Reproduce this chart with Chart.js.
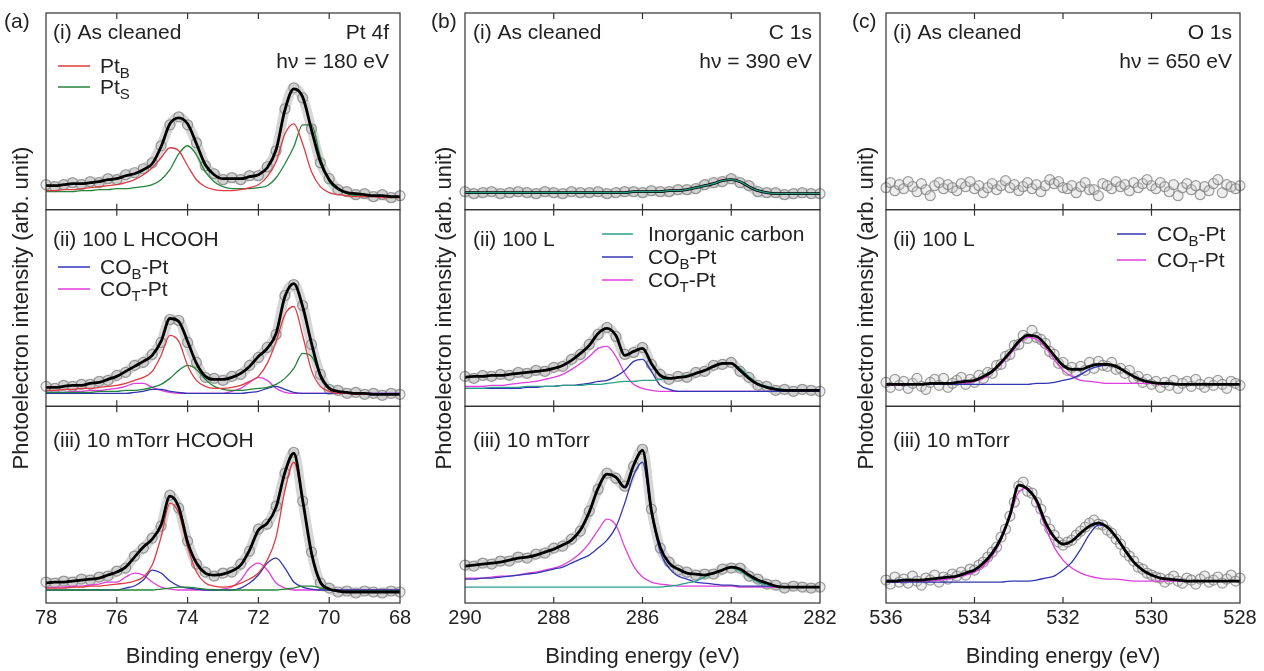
<!DOCTYPE html>
<html lang="en">
<head>
<meta charset="UTF-8">
<title>Pt 4f, C 1s and O 1s spectra</title>
<script src="https://cdn.jsdelivr.net/npm/chart.js"></script>
<style>
  body { margin: 0; background: #fff; }
  canvas { position: absolute; top: 0; }
</style>
</head>
<body>
<canvas id="panelA" width="421" height="671" style="left:0px"></canvas>
<canvas id="panelB" width="421" height="671" style="left:421px"></canvas>
<canvas id="panelC" width="422" height="671" style="left:842px"></canvas>
<script>
// binding energy grids (eV)
const energyPt = [78,77.75,77.5,77.25,77,76.75,76.5,76.25,76,75.75,75.5,75.25,75,74.75,74.5,74.25,74,73.75,73.5,73.25,73,72.75,72.5,72.25,72,71.75,71.5,71.25,71,70.75,70.5,70.25,70,69.75,69.5,69.25,69,68.75,68.5,68.25,68];
const energyC = [290,289.8,289.6,289.4,289.2,289,288.8,288.6,288.4,288.2,288,287.8,287.6,287.4,287.2,287,286.8,286.6,286.4,286.2,286,285.8,285.6,285.4,285.2,285,284.8,284.6,284.4,284.2,284,283.8,283.6,283.4,283.2,283,282.8,282.6,282.4,282.2,282];
const energyO = [536,535.8,535.6,535.4,535.2,535,534.8,534.6,534.4,534.2,534,533.8,533.6,533.4,533.2,533,532.8,532.6,532.4,532.2,532,531.8,531.6,531.4,531.2,531,530.8,530.6,530.4,530.2,530,529.8,529.6,529.4,529.2,529,528.8,528.6,528.4,528.2,528];
const energyOScan = [536,535.9,535.8,535.7,535.6,535.5,535.4,535.3,535.2,535.1,535,534.9,534.8,534.7,534.6,534.5,534.4,534.3,534.2,534.1,534,533.9,533.8,533.7,533.6,533.5,533.4,533.3,533.2,533.1,533,532.9,532.8,532.7,532.6,532.5,532.4,532.3,532.2,532.1,532,531.9,531.8,531.7,531.6,531.5,531.4,531.3,531.2,531.1,531,530.9,530.8,530.7,530.6,530.5,530.4,530.3,530.2,530.1,530,529.9,529.8,529.7,529.6,529.5,529.4,529.3,529.2,529.1,529,528.9,528.8,528.7,528.6,528.5,528.4,528.3,528.2,528.1,528];

// Pt 4f (a)
const dataPtI = [25,23,25,27,25,28,27,31,30,35,37,41,47,64,85,93,85,67,44,36,30,32,30,34,34,43,59,101,122,112,81,47,31,20,18,15,16,13,15,12,14];
const fitPtI = [24,24,25,26,26,27,28,30,31,34,36,40,46,63,86,92,86,66,45,35,31,31,31,33,35,42,60,100,121,113,80,48,30,21,17,16,15,14,14,13,13];
const ptBulkI = [19,19,20,20,21,22,23,24,25,27,30,35,42,52,62,59,44,30,23,20,19,19,20,22,25,33,48,76,86,66,38,23,17,15,14,13,13,13,12,12,12];
const ptSurfI = [18,18,18,18,19,19,20,20,21,21,22,23,25,30,40,56,64,55,38,28,23,21,21,21,22,24,32,46,63,85,85,53,28,20,16,14,13,13,13,12,12];

const dataPtII = [20,18,21,20,22,22,25,26,31,34,41,44,52,64,87,86,64,44,29,28,26,30,32,41,49,59,72,111,122,101,62,32,17,16,13,14,12,13,11,13,12];
const fitPtII = [19,19,20,21,21,23,24,27,30,35,40,45,51,65,88,85,65,43,30,27,27,29,33,40,50,58,73,110,123,100,63,31,18,15,14,13,13,12,12,12,12];
const ptBulkII = [16,16,17,17,18,18,19,20,21,23,26,29,35,51,71,65,41,26,20,18,18,19,21,25,30,43,65,92,100,71,36,20,15,13,13,12,12,12,12,12,12];
const ptSurfII = [14,14,14,14,14,14,15,15,15,16,16,17,19,22,28,36,41,37,27,20,17,16,16,17,18,19,22,28,38,53,50,32,19,15,13,13,12,12,12,12,12];
const ptCoBridgeII = [13,13,13,13,13,13,13,13,13,13,14,15,17,17,15,14,13,13,13,13,13,13,13,14,15,18,20,17,14,13,13,13,13,13,13,13,13,13,13,13,13];
const ptCoTopII = [14,14,14,15,15,16,16,17,18,20,23,23,19,16,14,13,13,13,13,13,13,15,18,24,29,26,18,14,13,13,13,13,13,13,13,13,13,13,13,13,13];

const dataPtIII = [21,20,22,21,24,23,26,27,32,35,47,55,65,77,108,95,62,39,31,27,30,31,39,52,74,79,97,130,151,102,51,20,15,11,12,10,12,11,10,12,11];
const fitPtIII = [20,21,21,22,23,24,25,28,31,36,46,56,64,78,107,96,61,40,30,28,29,32,38,53,73,80,96,131,150,103,50,21,14,12,11,11,11,11,11,11,11];
const ptBulkIII = [15,15,15,16,16,17,17,18,19,20,22,26,38,66,100,90,56,31,20,17,16,17,20,24,30,43,66,113,141,103,50,21,14,12,11,11,11,11,11,11,11];
const ptSurfIII = [13,13,13,13,13,13,13,13,13,13,13,13,13,14,15,16,16,15,14,13,13,13,13,13,13,13,13,14,15,17,17,15,13,12,12,12,12,12,12,12,12];
const ptCoBridgeIII = [13,13,13,13,13,13,13,13,13,15,17,23,33,30,22,17,15,14,13,13,13,13,15,20,28,40,45,35,21,16,14,13,13,13,13,13,13,13,13,13,13];
const ptCoTopIII = [15,16,16,17,17,18,19,21,21,26,30,28,21,16,14,13,13,13,13,13,14,16,23,35,40,33,20,15,13,13,13,13,13,13,13,13,13,13,13,13,13];

// C 1s (b)
const dataCI = [18,16,17,18,16,17,18,17,16,18,17,16,18,17,17,18,16,17,18,18,17,19,18,18,20,20,21,25,27,28,31,27,24,18,17,17,15,16,17,16,16];
const fitCI = [17,17,17,17,17,17,17,17,17,17,17,17,17,17,17,17,17,17,17,18,18,18,18,19,19,20,22,24,26,29,30,28,23,19,17,16,16,16,16,16,16];
const inorgCI = [17,17,17,17,17,17,17,17,17,17,17,17,17,17,17,17,17,17,17,18,18,18,18,19,19,20,22,24,26,29,30,28,23,19,17,16,16,16,16,16,16];

const dataCII = [30,28,31,30,32,31,34,33,36,35,39,40,47,52,62,72,79,70,52,54,59,42,32,27,30,29,34,35,41,42,44,35,29,21,20,16,17,15,17,16,15];
const fitCII = [29,30,30,31,31,32,33,34,35,36,38,41,46,53,61,73,78,71,51,55,58,43,31,28,29,30,33,36,40,43,43,36,28,22,19,17,16,16,16,16,16];
const inorgCII = [18,18,18,19,19,19,19,20,20,20,20,21,21,21,22,22,23,24,25,25,26,26,27,28,29,31,33,36,40,42,43,38,30,23,20,18,17,16,16,16,16];
const cCoBridgeII = [18,18,18,18,18,18,18,19,19,20,20,21,21,22,23,25,26,30,36,45,47,35,21,17,15,15,15,15,15,15,15,15,15,15,15,15,15,15,15,15,15];
const cCoTopII = [20,20,20,21,21,22,23,24,25,27,29,32,37,43,50,58,60,50,33,22,18,16,15,15,15,15,15,15,15,15,15,15,15,15,15,15,15,15,15,15,15];

const dataCIII = [38,37,40,39,42,42,46,45,49,50,55,57,64,72,92,114,130,125,117,137,154,94,55,41,33,31,28,29,29,34,35,35,27,24,19,18,15,17,16,15,16];
const fitCIII = [37,38,39,40,41,43,45,46,48,51,54,58,63,73,91,115,129,126,116,138,153,93,56,40,34,30,29,28,30,33,36,34,28,23,20,17,16,16,16,16,16];
const inorgCIII = [16,16,16,16,16,16,16,16,16,16,16,16,16,16,16,16,16,16,16,16,16,16,16,17,18,20,22,26,30,33,35,32,26,21,18,17,16,16,16,16,16];
const cCoBridgeIII = [24,24,25,25,26,27,28,29,30,32,34,36,40,44,48,55,63,76,100,128,141,90,51,35,27,24,21,20,19,18,18,17,17,17,17,17,16,16,16,16,16];
const cCoTopIII = [25,25,25,26,27,27,28,30,31,33,35,38,43,50,60,73,84,78,56,37,26,21,19,18,17,17,17,17,17,17,17,16,16,16,16,16,16,16,16,16,16];

// O 1s (c)
const dataOI = [22,27,19,25,21,28,23,18,26,20,14,24,27,21,25,22,19,26,23,28,21,24,17,22,26,20,24,29,22,25,19,23,27,21,25,18,24,30,26,28,22,21,24,17,23,27,20,20,14,26,24,21,28,23,25,19,27,22,26,30,24,21,27,23,18,25,14,22,26,20,24,15,23,19,26,30,17,25,23,21,24];

const dataOII = [24,19,27,21,25,18,23,28,20,17,24,27,21,28,19,23,26,29,22,27,24,31,28,34,33,41,42,50,52,61,62,71,68,76,69,67,63,55,52,43,44,36,39,34,40,36,44,38,45,41,40,44,37,38,33,36,28,30,24,27,22,25,19,24,21,26,18,23,25,20,27,22,19,24,21,26,22,18,25,23,21];
const fitOII = [22,22,22,22,22,23,23,23,24,25,26,30,35,44,54,65,71,70,62,51,41,37,37,40,42,42,40,35,30,26,24,23,23,22,22,22,22,22,22,22,22];
const oCoBridgeII = [22,22,22,22,22,22,22,22,22,22,22,22,22,22,22,22,22,23,23,24,26,28,32,37,40,41,39,35,30,26,24,23,22,22,22,22,22,22,22,22,22];
const oCoTopII = [21,21,21,22,22,22,22,22,22,23,25,28,34,42,52,63,69,67,59,47,36,30,26,25,24,23,23,23,23,23,23,22,22,22,22,22,22,22,22,22,22];

const dataOIII = [23,19,26,21,24,20,27,22,18,25,23,28,21,26,24,29,27,31,28,34,33,38,41,46,51,56,66,74,87,101,117,121,112,110,101,94,82,74,68,61,58,61,63,68,72,76,80,83,79,78,73,70,64,59,51,47,42,36,34,30,28,26,25,21,24,27,22,20,25,23,19,24,27,21,23,26,20,24,28,22,25];
const fitOIII = [22,22,23,23,23,24,25,26,27,30,33,40,50,65,88,118,114,103,81,66,59,62,70,77,80,76,66,53,41,33,28,25,24,23,22,22,22,22,22,22,22];
const oCoBridgeIII = [21,21,21,21,21,21,21,21,21,21,21,21,21,21,22,22,22,23,25,27,33,41,54,69,78,76,66,52,41,33,28,25,24,23,22,22,22,22,22,22,22];
const oCoTopIII = [21,21,21,22,22,22,23,24,26,28,31,37,47,63,86,111,115,100,76,56,43,35,30,27,25,24,24,23,22,22,22,22,22,22,22,22,22,22,22,22,22];

const FONT = '"Liberation Sans", Arial, Helvetica, sans-serif';
const C = {
  fit: '#000000', ptB: '#de3b42', ptS: '#23843a', coB: '#3236b0',
  coT: '#e03ede', inorg: '#2a9f88'
};

Chart.defaults.font.family = FONT;
Chart.defaults.color = '#222';
Chart.defaults.animation = false;

function xy(xs, ys) {
  return ys.map((y, i) => ({ x: xs[i], y: y }));
}

function curve(xs, ys, color, axis, order) {
  return {
    data: xy(xs, ys), yAxisID: axis, borderColor: color,
    borderWidth: order === 0 ? 2.8 : 1.3, pointRadius: 0,
    cubicInterpolationMode: 'monotone', order: order
  };
}

// measured points; dense scans get a soft grey band like overlapping markers
function scan(xs, ys, axis, dense) {
  return {
    data: xy(xs, ys), yAxisID: axis, showLine: !!dense,
    borderColor: 'rgba(165,165,165,0.45)', borderWidth: 10,
    cubicInterpolationMode: 'monotone',
    pointRadius: 5, pointBorderWidth: 1.2,
    pointBorderColor: 'rgba(125,125,125,0.75)',
    pointBackgroundColor: 'rgba(200,200,200,0.3)',
    order: 3, clip: 8
  };
}

function stackedScales(lo, hi) {
  const y = (w) => ({
    type: 'linear', position: 'left', stack: 'spectra', stackWeight: 1,
    weight: w, min: 0, max: 197, display: false
  });
  return {
    x: {
      type: 'linear', position: 'bottom', reverse: true, min: lo, max: hi,
      ticks: { stepSize: 2, font: { size: 20 }, color: '#222', padding: 3, maxRotation: 0, autoSkip: false },
      grid: { display: false, drawTicks: false },
      border: { display: false },
      title: { display: true, text: 'Binding energy (eV)', font: { size: 22 }, color: '#222', padding: { top: 0, bottom: 1 } },
      afterFit(s) { s.height = 68; }
    },
    yI: y(3), yII: y(2), yIII: y(1)
  };
}

// frames, inward ticks, labels and keys
const panelDecor = {
  id: 'panelDecor',
  afterDraw(chart, args, opts) {
    const ctx = chart.ctx, area = chart.chartArea, xs = chart.scales.x;
    const dx = opts.left;
    ctx.save();
    ctx.strokeStyle = '#333';
    ctx.lineWidth = 1.2;
    ['yI', 'yII', 'yIII'].forEach(id => {
      const s = chart.scales[id];
      ctx.strokeRect(area.left, s.top, area.right - area.left, s.bottom - s.top);
      xs.ticks.forEach(t => {
        if (t.value === xs.min || t.value === xs.max) return;
        const px = xs.getPixelForValue(t.value);
        ctx.beginPath();
        ctx.moveTo(px, s.top); ctx.lineTo(px, s.top + 6);
        ctx.moveTo(px, s.bottom); ctx.lineTo(px, s.bottom - 6);
        ctx.stroke();
      });
    });

    ctx.fillStyle = '#222';
    ctx.textBaseline = 'middle';
    opts.texts.forEach(t => {
      ctx.font = '21px ' + FONT;
      ctx.textAlign = t.align || 'left';
      ctx.fillText(t.text, t.x - dx, t.y);
    });

    opts.keys.forEach(k => {
      ctx.strokeStyle = k.color;
      ctx.lineWidth = 1.5;
      ctx.beginPath();
      ctx.moveTo(k.x1 - dx, k.y - 1); ctx.lineTo(k.x2 - dx, k.y - 1);
      ctx.stroke();
      let x = k.tx - dx;
      ctx.textAlign = 'left';
      k.parts.forEach(p => {
        const sub = p[1] === 1;
        ctx.font = (sub ? 15 : 21) + 'px ' + FONT;
        ctx.fillText(p[0], x, k.y + (sub ? 7 : 0));
        x += ctx.measureText(p[0]).width;
      });
    });

    ctx.translate(opts.titleX - dx, (area.top + area.bottom) / 2);
    ctx.rotate(-Math.PI / 2);
    ctx.font = '22px ' + FONT;
    ctx.textAlign = 'center';
    ctx.fillText('Photoelectron intensity (arb. unit)', 0, 0);
    ctx.restore();
  }
};

function makePanel(id, lo, hi, padding, datasets, decor) {
  return new Chart(document.getElementById(id), {
    type: 'line',
    data: { datasets: datasets },
    options: {
      responsive: false,
      layout: { padding: padding },
      scales: stackedScales(lo, hi),
      plugins: { legend: { display: false }, tooltip: { enabled: false }, panelDecor: decor }
    },
    plugins: [panelDecor]
  });
}

const bulkKey = [['Pt'], ['B', 1]];
const surfKey = [['Pt'], ['S', 1]];
const bridgeKey = [['CO'], ['B', 1], ['-Pt']];
const topKey = [['CO'], ['T', 1], ['-Pt']];

makePanel('panelA', 68, 78, { left: 46, right: 21, top: 13, bottom: 0 }, [
  scan(energyPt, dataPtI, 'yI', true),
  curve(energyPt, ptBulkI, C.ptB, 'yI', 1),
  curve(energyPt, ptSurfI, C.ptS, 'yI', 1),
  curve(energyPt, fitPtI, C.fit, 'yI', 0),
  scan(energyPt, dataPtII, 'yII', true),
  curve(energyPt, ptBulkII, C.ptB, 'yII', 1),
  curve(energyPt, ptSurfII, C.ptS, 'yII', 1),
  curve(energyPt, ptCoBridgeII, C.coB, 'yII', 1),
  curve(energyPt, ptCoTopII, C.coT, 'yII', 1),
  curve(energyPt, fitPtII, C.fit, 'yII', 0),
  scan(energyPt, dataPtIII, 'yIII', true),
  curve(energyPt, ptBulkIII, C.ptB, 'yIII', 1),
  curve(energyPt, ptSurfIII, C.ptS, 'yIII', 1),
  curve(energyPt, ptCoBridgeIII, C.coB, 'yIII', 1),
  curve(energyPt, ptCoTopIII, C.coT, 'yIII', 1),
  curve(energyPt, fitPtIII, C.fit, 'yIII', 0)
], {
  left: 0, titleX: 22,
  texts: [
    { text: '(a)', x: 4, y: 22 },
    { text: '(i) As cleaned', x: 53, y: 33 },
    { text: 'Pt 4f', x: 389, y: 33, align: 'right' },
    { text: 'hν = 180 eV', x: 389, y: 62, align: 'right' },
    { text: '(ii) 100 L HCOOH', x: 53, y: 240 },
    { text: '(iii) 10 mTorr HCOOH', x: 53, y: 441 }
  ],
  keys: [
    { color: C.ptB, x1: 58, x2: 90, tx: 100, y: 67, parts: bulkKey },
    { color: C.ptS, x1: 58, x2: 90, tx: 100, y: 88, parts: surfKey },
    { color: C.coB, x1: 58, x2: 90, tx: 100, y: 268, parts: bridgeKey },
    { color: C.coT, x1: 58, x2: 90, tx: 100, y: 290, parts: topKey }
  ]
});

const inorgTop = curve(energyC, inorgCI, C.inorg, 'yI', -1);
makePanel('panelB', 282, 290, { left: 44, right: 22, top: 13, bottom: 0 }, [
  scan(energyC, dataCI, 'yI', true),
  curve(energyC, fitCI, C.fit, 'yI', 0),
  inorgTop,
  scan(energyC, dataCII, 'yII', true),
  curve(energyC, inorgCII, C.inorg, 'yII', 1),
  curve(energyC, cCoBridgeII, C.coB, 'yII', 1),
  curve(energyC, cCoTopII, C.coT, 'yII', 1),
  curve(energyC, fitCII, C.fit, 'yII', 0),
  scan(energyC, dataCIII, 'yIII', true),
  curve(energyC, inorgCIII, C.inorg, 'yIII', 1),
  curve(energyC, cCoBridgeIII, C.coB, 'yIII', 1),
  curve(energyC, cCoTopIII, C.coT, 'yIII', 1),
  curve(energyC, fitCIII, C.fit, 'yIII', 0)
], {
  left: 421, titleX: 445,
  texts: [
    { text: '(b)', x: 431, y: 22 },
    { text: '(i) As cleaned', x: 473, y: 33 },
    { text: 'C 1s', x: 812, y: 33, align: 'right' },
    { text: 'hν = 390 eV', x: 812, y: 62, align: 'right' },
    { text: '(ii) 100 L', x: 473, y: 240 },
    { text: '(iii) 10 mTorr', x: 473, y: 441 }
  ],
  keys: [
    { color: C.inorg, x1: 602, x2: 633, tx: 648, y: 235, parts: [['Inorganic carbon']] },
    { color: C.coB, x1: 602, x2: 633, tx: 648, y: 258, parts: bridgeKey },
    { color: C.coT, x1: 602, x2: 633, tx: 648, y: 281, parts: topKey }
  ]
});

makePanel('panelC', 528, 536, { left: 44, right: 24, top: 13, bottom: 0 }, [
  scan(energyOScan, dataOI, 'yI'),
  scan(energyOScan, dataOII, 'yII'),
  curve(energyO, oCoBridgeII, C.coB, 'yII', 1),
  curve(energyO, oCoTopII, C.coT, 'yII', 1),
  curve(energyO, fitOII, C.fit, 'yII', 0),
  scan(energyOScan, dataOIII, 'yIII'),
  curve(energyO, oCoBridgeIII, C.coB, 'yIII', 1),
  curve(energyO, oCoTopIII, C.coT, 'yIII', 1),
  curve(energyO, fitOIII, C.fit, 'yIII', 0)
], {
  left: 842, titleX: 867,
  texts: [
    { text: '(c)', x: 852, y: 22 },
    { text: '(i) As cleaned', x: 893, y: 33 },
    { text: 'O 1s', x: 1232, y: 33, align: 'right' },
    { text: 'hν = 650 eV', x: 1232, y: 62, align: 'right' },
    { text: '(ii) 100 L', x: 893, y: 240 },
    { text: '(iii) 10 mTorr', x: 893, y: 441 }
  ],
  keys: [
    { color: C.coB, x1: 1117, x2: 1146, tx: 1157, y: 235, parts: bridgeKey },
    { color: C.coT, x1: 1117, x2: 1146, tx: 1157, y: 261, parts: topKey }
  ]
});
</script>
</body>
</html>
